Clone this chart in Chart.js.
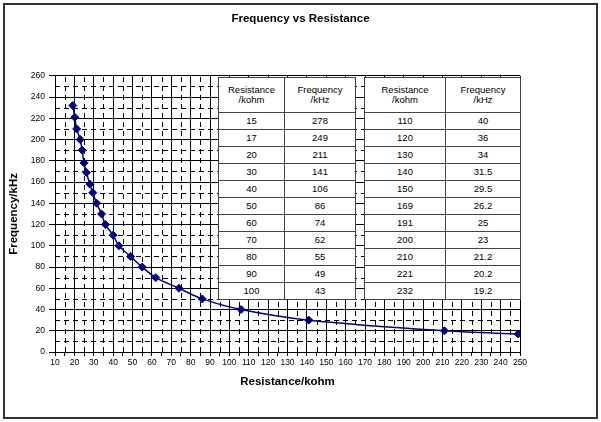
<!DOCTYPE html>
<html>
<head>
<meta charset="utf-8">
<title>Frequency vs Resistance</title>
<script src="https://cdn.jsdelivr.net/npm/chart.js@4.4.0/dist/chart.umd.min.js"></script>
<style>
  html, body { margin: 0; padding: 0; background: #fff; }
  #wrap { position: relative; width: 601px; height: 422px; }
  #myChart { position: absolute; left: 0; top: 0; }
  table.vals {
    position: absolute;
    border-collapse: collapse;
    table-layout: fixed;
    background: #fff;
    font: 9.5px Arial, "Liberation Sans", sans-serif;
    color: #000;
  }
  table.vals td { border: 1px solid #444; text-align: center; vertical-align: middle; padding: 0; line-height: 10px; }
  table.vals tr { height: 17px; }
  table.vals tr.head { height: 35px; }
</style>
</head>
<body>
<div id="wrap">
  <canvas id="myChart" width="601" height="422"></canvas>
  <table class="vals" id="table1" style="left:218px; top:77px; width:137px;">
    <colgroup><col style="width:66px"><col style="width:71px"></colgroup>
  </table>
  <table class="vals" id="table2" style="left:364px; top:77px; width:156px;">
    <colgroup><col style="width:81px"><col style="width:75px"></colgroup>
  </table>
</div>
<script>
  // Table values (as typed in the sheet)
  const tableResistance1 = [15, 17, 20, 30, 40, 50, 60, 70, 80, 90, 100];
  const tableFrequency1 = [278, 249, 211, 141, 106, 86, 74, 62, 55, 49, 43];
  const tableResistance2 = [110, 120, 130, 140, 150, 169, 191, 200, 210, 221, 232];
  const tableFrequency2 = [40, 36, 34, 31.5, 29.5, 26.2, 25, 23, 21.2, 20.2, 19.2];

  // Plotted series (x column / y column as plotted)
  const pointX = [19.2, 20.2, 21.2, 23, 24, 25, 26.2, 28, 29.5, 31.5, 34, 36, 40, 43, 49, 55, 62, 74, 86, 106, 141, 211, 249, 278];
  const pointY = [232, 221, 210, 200, 190, 178, 169, 158, 150, 140, 130, 120, 110, 100, 90, 80, 70, 60, 50, 40, 30, 20, 17, 15];

  const chartTitle = 'Frequency vs Resistance';
  const xTitle = 'Resistance/kohm';
  const yTitle = 'Frequency/kHz';
  const xMin = 10, xMax = 250, xMajor = 10, xMinor = 5;
  const yMin = 0, yMax = 260, yMajor = 20, yMinor = 10;

  const fontFamily = 'Arial, "Liberation Sans", sans-serif';

  // build the two overlaid tables
  function fillTable(id, res, freq) {
    const table = document.getElementById(id);
    let html = '<tr class="head"><td>Resistance<br>/kohm</td><td>Frequency<br>/kHz</td></tr>';
    for (let i = 0; i < res.length; i++) {
      html += `<tr><td>${res[i]}</td><td>${freq[i]}</td></tr>`;
    }
    table.insertAdjacentHTML('beforeend', html);
  }
  fillTable('table1', tableResistance1, tableFrequency1);
  fillTable('table2', tableResistance2, tableFrequency2);

  // outer frame of the chart object
  const framePlugin = {
    id: 'frame',
    beforeDraw(chart) {
      const c = chart.ctx;
      c.save();
      c.fillStyle = '#fff';
      c.fillRect(0, 0, chart.width, chart.height);
      c.strokeStyle = '#333';
      c.lineWidth = 2;
      c.strokeRect(4, 4, chart.width - 8, chart.height - 8);
      c.restore();
    }
  };

  // dashed minor gridlines
  const minorGridPlugin = {
    id: 'minorGrid',
    beforeDatasetsDraw(chart) {
      const {ctx: c, chartArea: a, scales: {x, y}} = chart;
      c.save();
      c.strokeStyle = '#000';
      c.lineWidth = 1;
      c.setLineDash([5, 4]);
      c.beginPath();
      for (let v = xMin + xMinor; v < xMax; v += xMajor) {
        const px = Math.round(x.getPixelForValue(v)) + 0.5;
        c.moveTo(px, a.bottom);
        c.lineTo(px, a.top);
      }
      for (let v = yMin + yMinor; v < yMax; v += yMajor) {
        const py = Math.round(y.getPixelForValue(v)) + 0.5;
        c.moveTo(a.left, py);
        c.lineTo(a.right, py);
      }
      c.stroke();
      c.restore();
    }
  };

  const ctx = document.getElementById('myChart');
  new Chart(ctx, {
    type: 'scatter',
    data: {
      datasets: [{
        data: pointX.map((v, i) => ({x: v, y: pointY[i]})),
        showLine: true,
        borderColor: '#000080',
        backgroundColor: '#000080',
        borderWidth: 1.5,
        pointStyle: 'rectRot',
        pointRadius: 4,
        pointBorderWidth: 1,
        tension: 0.33
      }]
    },
    options: {
      responsive: false,
      animation: false,
      devicePixelRatio: 1,
      layout: { padding: { left: 0, right: 0, top: 0, bottom: 5 } },
      plugins: {
        legend: { display: false },
        tooltip: { enabled: false },
        title: {
          display: true,
          text: chartTitle,
          color: '#000',
          font: { family: fontFamily, size: 11.5, weight: 'bold' },
          padding: { top: 12, bottom: 50 }
        }
      },
      scales: {
        x: {
          type: 'linear',
          min: xMin,
          max: xMax,
          // keep the plot area clear of the right part of the frame
          afterFit: (s) => { s.height = 65; s.paddingRight = 81; },
          ticks: {
            stepSize: xMinor,
            autoSkip: false,
            maxRotation: 0,
            color: '#000',
            padding: 2,
            font: { family: fontFamily, size: 8.5 },
            callback: (v) => (v % xMajor === 0 ? v : '')
          },
          grid: {
            color: (c) => (c.tick && c.tick.value % xMajor === 0 ? '#000' : 'rgba(0,0,0,0)'),
            tickColor: '#000',
            tickLength: 4
          },
          border: { color: '#000' },
          title: {
            display: true,
            text: xTitle,
            color: '#000',
            font: { family: fontFamily, size: 11.5, weight: 'bold' },
            padding: { top: 0, bottom: 28 }
          }
        },
        y: {
          min: yMin,
          max: yMax,
          afterFit: (s) => { s.width = 55; },
          ticks: {
            stepSize: yMajor,
            color: '#000',
            padding: 4,
            font: { family: fontFamily, size: 8.5 }
          },
          grid: { color: '#000', tickColor: '#000', tickLength: 6 },
          border: { color: '#000' },
          title: {
            display: true,
            text: yTitle,
            color: '#000',
            font: { family: fontFamily, size: 11.5, weight: 'bold' },
            padding: { top: 7, bottom: 0 }
          }
        }
      }
    },
    plugins: [framePlugin, minorGridPlugin]
  });
</script>
</body>
</html>
